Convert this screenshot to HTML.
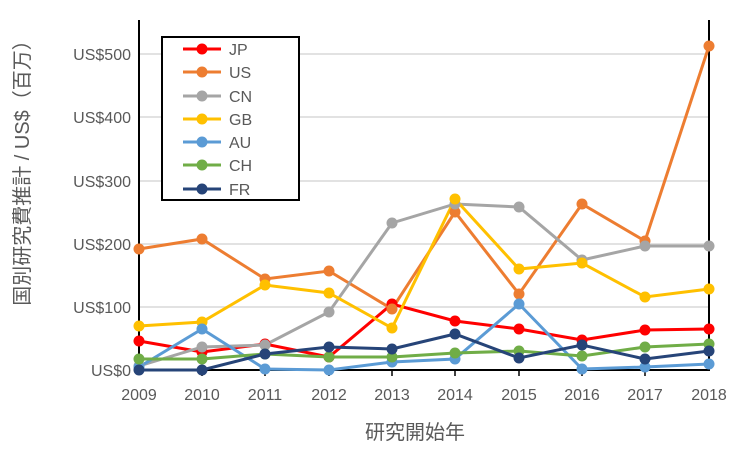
<!DOCTYPE html><html><head><meta charset="utf-8"><style>body{margin:0;background:#fff}</style></head><body>
<svg width="751" height="458" xmlns="http://www.w3.org/2000/svg" font-family="Liberation Sans, Noto Sans CJK JP, sans-serif">
<g stroke="#d9d9d9" stroke-width="1.5"><line x1="139" x2="709" y1="54" y2="54"/><line x1="139" x2="709" y1="117" y2="117"/><line x1="139" x2="709" y1="181" y2="181"/><line x1="139" x2="709" y1="244" y2="244"/><line x1="139" x2="709" y1="307" y2="307"/></g>
<g stroke="#000" stroke-width="2" fill="none"><polyline points="139,20 139,370 709,370 709,20"/></g>
<g stroke="#000" stroke-width="1.5"><line x1="202" x2="202" y1="370" y2="376"/><line x1="265" x2="265" y1="370" y2="376"/><line x1="329" x2="329" y1="370" y2="376"/><line x1="392" x2="392" y1="370" y2="376"/><line x1="455" x2="455" y1="370" y2="376"/><line x1="519" x2="519" y1="370" y2="376"/><line x1="582" x2="582" y1="370" y2="376"/><line x1="645" x2="645" y1="370" y2="376"/></g>
<g font-size="16" fill="#595959" text-anchor="end"><text x="131" y="60">US$500</text><text x="131" y="123">US$400</text><text x="131" y="187">US$300</text><text x="131" y="250">US$200</text><text x="131" y="313">US$100</text><text x="131" y="376">US$0</text></g>
<g font-size="16" fill="#595959" text-anchor="middle"><text x="139" y="400">2009</text><text x="202" y="400">2010</text><text x="265" y="400">2011</text><text x="329" y="400">2012</text><text x="392" y="400">2013</text><text x="455" y="400">2014</text><text x="519" y="400">2015</text><text x="582" y="400">2016</text><text x="645" y="400">2017</text><text x="709" y="400">2018</text>
<text x="415" y="439" font-size="20">研究開始年</text>
<text transform="translate(29,168) rotate(-90)" font-size="20">国別研究費推計 / US$（百万）</text></g>
<g fill="none" stroke-width="3">
<polyline stroke="#ff0000" points="139,341 202,352 265,344 329,357 392,304 455,321 519,329 582,340 645,330 709,329"/>
<polyline stroke="#ed7d31" points="139,249 202,239 265,279 329,271 392,309 455,212 519,294 582,204 645,241 709,46"/>
<polyline stroke="#a5a5a5" points="139,366 202,347 265,345 329,312 392,223 455,204 519,207 582,260 645,246 709,246"/>
<polyline stroke="#ffc000" points="139,326 202,322 265,285 329,293 392,328 455,199 519,269 582,263 645,297 709,289"/>
<polyline stroke="#5b9bd5" points="139,367 202,329 265,369 329,370 392,362 455,359 519,304 582,369 645,367 709,364"/>
<polyline stroke="#70ad47" points="139,359 202,359 265,354 329,357 392,357 455,353 519,351 582,356 645,347 709,344"/>
<polyline stroke="#264478" points="139,370 202,370 265,354 329,347 392,349 455,334 519,358 582,345 645,359 709,351"/>
</g>
<g fill="#ff0000"><circle cx="139" cy="341" r="5.5"/><circle cx="202" cy="352" r="5.5"/><circle cx="265" cy="344" r="5.5"/><circle cx="329" cy="357" r="5.5"/><circle cx="392" cy="304" r="5.5"/><circle cx="455" cy="321" r="5.5"/><circle cx="519" cy="329" r="5.5"/><circle cx="582" cy="340" r="5.5"/><circle cx="645" cy="330" r="5.5"/><circle cx="709" cy="329" r="5.5"/></g>
<g fill="#ed7d31"><circle cx="139" cy="249" r="5.5"/><circle cx="202" cy="239" r="5.5"/><circle cx="265" cy="279" r="5.5"/><circle cx="329" cy="271" r="5.5"/><circle cx="392" cy="309" r="5.5"/><circle cx="455" cy="212" r="5.5"/><circle cx="519" cy="294" r="5.5"/><circle cx="582" cy="204" r="5.5"/><circle cx="645" cy="241" r="5.5"/><circle cx="709" cy="46" r="5.5"/></g>
<g fill="#a5a5a5"><circle cx="139" cy="366" r="5.5"/><circle cx="202" cy="347" r="5.5"/><circle cx="265" cy="345" r="5.5"/><circle cx="329" cy="312" r="5.5"/><circle cx="392" cy="223" r="5.5"/><circle cx="455" cy="204" r="5.5"/><circle cx="519" cy="207" r="5.5"/><circle cx="582" cy="260" r="5.5"/><circle cx="645" cy="246" r="5.5"/><circle cx="709" cy="246" r="5.5"/></g>
<g fill="#ffc000"><circle cx="139" cy="326" r="5.5"/><circle cx="202" cy="322" r="5.5"/><circle cx="265" cy="285" r="5.5"/><circle cx="329" cy="293" r="5.5"/><circle cx="392" cy="328" r="5.5"/><circle cx="455" cy="199" r="5.5"/><circle cx="519" cy="269" r="5.5"/><circle cx="582" cy="263" r="5.5"/><circle cx="645" cy="297" r="5.5"/><circle cx="709" cy="289" r="5.5"/></g>
<g fill="#5b9bd5"><circle cx="139" cy="367" r="5.5"/><circle cx="202" cy="329" r="5.5"/><circle cx="265" cy="369" r="5.5"/><circle cx="329" cy="370" r="5.5"/><circle cx="392" cy="362" r="5.5"/><circle cx="455" cy="359" r="5.5"/><circle cx="519" cy="304" r="5.5"/><circle cx="582" cy="369" r="5.5"/><circle cx="645" cy="367" r="5.5"/><circle cx="709" cy="364" r="5.5"/></g>
<g fill="#70ad47"><circle cx="139" cy="359" r="5.5"/><circle cx="202" cy="359" r="5.5"/><circle cx="265" cy="354" r="5.5"/><circle cx="329" cy="357" r="5.5"/><circle cx="392" cy="357" r="5.5"/><circle cx="455" cy="353" r="5.5"/><circle cx="519" cy="351" r="5.5"/><circle cx="582" cy="356" r="5.5"/><circle cx="645" cy="347" r="5.5"/><circle cx="709" cy="344" r="5.5"/></g>
<g fill="#264478"><circle cx="139" cy="370" r="5.5"/><circle cx="202" cy="370" r="5.5"/><circle cx="265" cy="354" r="5.5"/><circle cx="329" cy="347" r="5.5"/><circle cx="392" cy="349" r="5.5"/><circle cx="455" cy="334" r="5.5"/><circle cx="519" cy="358" r="5.5"/><circle cx="582" cy="345" r="5.5"/><circle cx="645" cy="359" r="5.5"/><circle cx="709" cy="351" r="5.5"/></g>
<rect x="162" y="37" width="137" height="163" fill="#fff" stroke="#000" stroke-width="2"/>
<g stroke-width="3" font-size="16" fill="#595959">
<line x1="183" x2="221" y1="49" y2="49" stroke="#ff0000"/><circle cx="202" cy="49" r="5.5" fill="#ff0000"/><text x="229" y="55">JP</text>
<line x1="183" x2="221" y1="72" y2="72" stroke="#ed7d31"/><circle cx="202" cy="72" r="5.5" fill="#ed7d31"/><text x="229" y="78">US</text>
<line x1="183" x2="221" y1="96" y2="96" stroke="#a5a5a5"/><circle cx="202" cy="96" r="5.5" fill="#a5a5a5"/><text x="229" y="102">CN</text>
<line x1="183" x2="221" y1="119" y2="119" stroke="#ffc000"/><circle cx="202" cy="119" r="5.5" fill="#ffc000"/><text x="229" y="125">GB</text>
<line x1="183" x2="221" y1="142" y2="142" stroke="#5b9bd5"/><circle cx="202" cy="142" r="5.5" fill="#5b9bd5"/><text x="229" y="148">AU</text>
<line x1="183" x2="221" y1="165" y2="165" stroke="#70ad47"/><circle cx="202" cy="165" r="5.5" fill="#70ad47"/><text x="229" y="171">CH</text>
<line x1="183" x2="221" y1="189" y2="189" stroke="#264478"/><circle cx="202" cy="189" r="5.5" fill="#264478"/><text x="229" y="195">FR</text>
</g>
</svg></body></html>
